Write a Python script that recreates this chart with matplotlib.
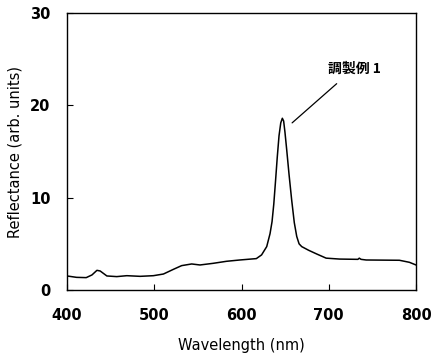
import matplotlib
matplotlib.use("Agg")
import matplotlib.pyplot as plt
from matplotlib.ticker import FixedLocator

wavelength = [400, 411, 422, 428.6, 434.3, 438, 445.7, 457, 468.6, 483.8, 499, 510.5,
              522, 531.4, 542.9, 552.4, 567.6, 582.9, 598, 617, 623, 628.9, 632.7,
              635, 637, 639, 641, 643, 645, 646.8, 648.3, 649.8, 651.8, 654.5,
              657.5, 660.5, 663.3, 666, 669, 677, 686.2, 697, 712.4, 733.4, 735, 737,
              742.9, 781, 792.4, 800]
reflectance = [1.52, 1.37, 1.34, 1.63, 2.13, 2.06, 1.52, 1.45, 1.55, 1.48, 1.55, 1.73,
               2.24, 2.64, 2.82, 2.71, 2.89, 3.11, 3.25, 3.4, 3.8, 4.7, 6.1,
               7.4, 9.3, 11.8, 14.4, 16.7, 18.1, 18.6, 18.3, 17.1, 15.2, 12.5,
               9.75, 7.3, 5.8, 5.0, 4.7, 4.3, 3.9, 3.45, 3.35, 3.32, 3.45, 3.32,
               3.25, 3.22, 3.0, 2.71]
x_ticks = [400, 500, 600, 700, 800]
y_ticks = [0, 10, 20, 30]
annotation_text = "調製例 1"

plt.rcParams['font.family'] = ['DejaVu Sans', 'Noto Sans CJK JP']

fig = plt.figure(figsize=(4.33, 3.6), dpi=100)
ax = fig.add_axes([67/433, 1 - 290/360, (416 - 67)/433, (290 - 13)/360])

ax.plot(wavelength, reflectance, color='black', lw=1.1)
ax.set_xlim(400, 800)
ax.set_ylim(0, 30)
ax.xaxis.set_major_locator(FixedLocator(x_ticks))
ax.yaxis.set_major_locator(FixedLocator(y_ticks))
ax.tick_params(direction='in', length=4, width=0.8)
ax.tick_params(axis='x', pad=13)
ax.tick_params(axis='y', pad=12)
for lbl in ax.get_xticklabels() + ax.get_yticklabels():
    lbl.set_fontsize(10.5)
    lbl.set_fontweight('bold')
for s in ax.spines.values():
    s.set_linewidth(1.0)

ax.set_xlabel("Wavelength (nm)", fontsize=10.5, labelpad=11)
ax.set_ylabel("Reflectance (arb. units)", fontsize=10.5, labelpad=5)

ax.annotate(annotation_text, xy=(658, 18.1), xytext=(729, 24.0),
            ha='center', va='center', fontsize=10, fontweight='bold',
            family=['Noto Sans CJK JP', 'DejaVu Sans'],
            arrowprops=dict(arrowstyle='-', color='black', lw=0.9,
                            shrinkA=6, shrinkB=0))

fig.savefig("out.png", dpi=100)
